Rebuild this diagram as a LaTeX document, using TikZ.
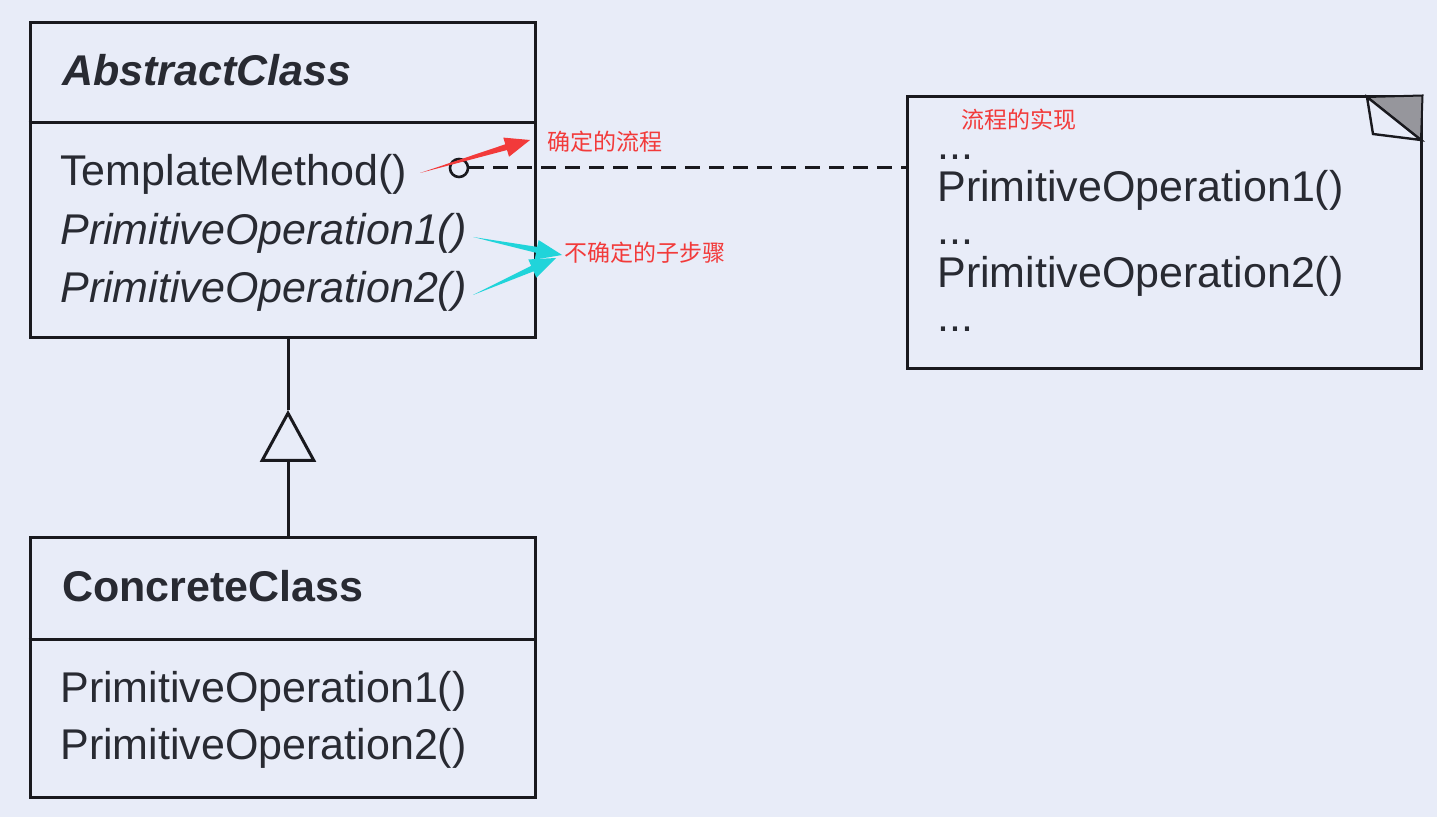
\documentclass[tikz,border=0pt]{standalone}
\usepackage{fontspec}
\setmainfont{Liberation Sans}
\newfontfamily\cjk{Noto Sans CJK SC}
\usetikzlibrary{positioning,calc,arrows.meta}

\definecolor{bgcol}{RGB}{232,236,248}
\definecolor{inkcol}{RGB}{25,25,30}
\definecolor{txtcol}{RGB}{40,42,50}
\definecolor{hintred}{RGB}{242,58,58}
\definecolor{hintcyan}{RGB}{32,212,218}
\definecolor{foldgray}{RGB}{150,150,156}

\newcommand\umlfont{\fontsize{21.5}{26}\selectfont}

% tapered marker arrow: colour, tail, tip, head length
\newcommand\taperarrow[4]{%
  \coordinate (hb) at ($(#3)!#4!(#2)$);
  \fill[#1] (#2) -- ($(hb)!1.5pt!90:(#3)$) -- ($(hb)!5pt!90:(#3)$) -- (#3)
    -- ($(hb)!5pt!-90:(#3)$) -- ($(hb)!1.5pt!-90:(#3)$) -- cycle;}

\begin{document}
\begin{tikzpicture}[x=0.5pt,y=0.5pt,
    classbox/.style={draw=inkcol, line width=1.5pt, minimum width=252.5pt, inner sep=0},
    divider/.style={draw=inkcol, line width=1.5pt},
    member/.style={anchor=base west, inner sep=0, text=txtcol, font=\umlfont},
    hint/.style={inner sep=0, font=\cjk\fontsize{11.5}{13}\selectfont, text=hintred},
    genline/.style={draw=inkcol, line width=1.5pt},
    hooklink/.style={draw=inkcol, line width=1.5pt, dash pattern=on 7.5pt off 4.5pt}]

    \fill[bgcol] (0,0) rectangle (1437,-817);
    \useasboundingbox (0,0) rectangle (1437,-817);

    % abstract class
    \node[classbox, minimum height=157.5pt] (abs) at (282.5,-180.5) {};
    \draw[divider] ([yshift=-50.5pt]abs.north west) -- ([yshift=-50.5pt]abs.north east);
    \node[member, font=\umlfont\bfseries\itshape] (absname) at (62,-86) {AbstractClass};
    \node[member] (tm) at (60,-186) {TemplateMethod()};
    \node[member, font=\umlfont\itshape] (po1) at (60,-245) {PrimitiveOperation1()};
    \node[member, font=\umlfont\itshape] (po2) at (60,-303) {PrimitiveOperation2()};

    % concrete class
    \node[classbox, minimum height=130pt] (conc) at (282.5,-668) {};
    \draw[divider] ([yshift=-51.5pt]conc.north west) -- ([yshift=-51.5pt]conc.north east);
    \node[member, font=\umlfont\bfseries] (concname) at (62,-602) {ConcreteClass};
    \node[member] (cpo1) at (60,-703) {PrimitiveOperation1()};
    \node[member] (cpo2) at (60,-760) {PrimitiveOperation2()};

    % generalization
    \coordinate (gentip) at (288,-410);
    \draw[genline, -{Triangle[open, length=26pt, width=28pt]}] (conc.north -| gentip) -- (gentip);
    \draw[genline] (gentip) -- (gentip |- abs.south);

    % note
    \node[classbox, minimum width=257pt, minimum height=136pt] (note) at (1164,-233) {};
    \draw[inkcol, line width=1pt, fill=foldgray] (1367,-97) -- (note.north east) -- (1421,-140) -- cycle;
    \draw[inkcol, line width=1.2pt, fill=bgcol] (1367,-97) -- (1373,-134) -- (1421,-140) -- cycle;
    \node[member] (dots1) at (937,-160) {...};
    \node[member] (npo1) at (937,-202) {PrimitiveOperation1()};
    \node[member] (dots2) at (937,-245) {...};
    \node[member] (npo2) at (937,-288) {PrimitiveOperation2()};
    \node[member] (dots3) at (937,-332) {...};

    % hook to note
    \node[draw=inkcol, circle, line width=1.3pt, minimum size=9pt, inner sep=0] (hook) at (459,-168) {};
    \draw[hooklink] (hook.east) -- (hook -| note.west);

    % annotations
    \node[hint] (implhint) at (1019,-120) {流程的实现};
    \node[hint] (flowhint) at (605,-142) {确定的流程};
    \node[hint] (stephint) at (645,-253) {不确定的子步骤};

    \coordinate (flowtail) at (420,-173);
    \coordinate (steptail1) at (473,-237);
    \coordinate (steptail2) at (473,-295);
    \taperarrow{hintred}{flowtail}{[xshift=-8.5pt, yshift=1pt]flowhint.west}{12.5pt}
    \taperarrow{hintcyan}{steptail1}{[xshift=-1pt, yshift=-1pt]stephint.west}{13pt}
    \taperarrow{hintcyan}{steptail2}{[xshift=-4pt, yshift=-2.5pt]stephint.west}{13pt}

\end{tikzpicture}
\end{document}
